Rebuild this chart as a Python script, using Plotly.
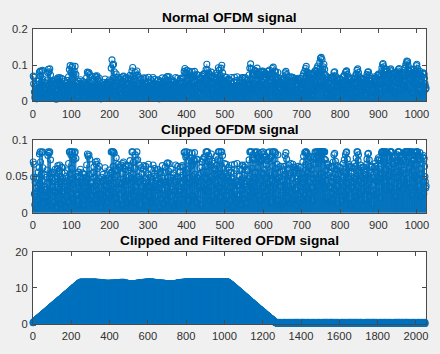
import plotly.graph_objects as go

# ---------------- data ----------------
# |x| of the normal OFDM signal, in thousandths
normal_mag = [
70,49,67,26,11,42,22,48,34,7,29,46,17,56,37,62,81,40,84,70,32,53,83,23,86,62,43,13,36,53,20,32,
22,31,49,16,59,40,79,89,29,82,48,90,25,73,54,10,48,35,56,37,24,14,44,55,28,60,47,29,6,35,50,61,
65,32,53,18,58,66,40,49,12,43,63,30,62,47,26,17,30,40,55,8,35,50,22,44,31,58,37,14,68,42,88,53,
99,46,80,26,94,61,98,19,77,40,73,83,32,97,54,75,24,42,50,11,25,41,56,16,48,35,44,60,23,40,30,46,
55,19,49,32,10,36,53,26,43,34,48,66,22,81,46,78,31,80,53,74,18,42,34,24,40,54,13,31,37,56,63,28,
49,17,70,38,67,24,71,44,61,14,32,48,64,23,41,26,7,35,49,44,30,16,53,43,32,47,20,62,36,38,29,44,
52,14,24,34,48,20,59,46,31,54,37,92,56,115,29,101,64,103,40,82,26,49,59,19,76,42,52,12,58,67,32,63,
25,42,62,17,66,34,40,54,11,68,46,70,30,43,60,22,64,38,65,49,14,26,44,59,65,31,50,18,72,40,62,48,
32,84,43,94,53,70,23,46,61,14,80,36,72,29,84,49,73,20,42,50,66,28,43,10,47,62,23,53,37,29,44,60,
65,26,40,17,48,64,34,42,8,37,54,22,67,52,36,23,34,49,60,13,41,30,46,19,66,50,35,16,61,31,40,48,
37,14,44,58,24,60,47,34,7,40,54,26,56,42,18,48,65,32,44,12,26,42,55,23,63,38,43,17,68,34,69,49,
58,28,68,44,22,40,49,60,14,32,23,36,52,10,55,41,30,46,18,66,38,43,13,50,64,25,47,36,29,11,56,63,
30,49,40,19,65,42,52,63,25,83,46,91,36,77,80,55,86,35,60,47,16,72,49,83,40,76,64,24,70,43,82,50,
67,22,73,40,83,53,71,30,44,14,74,48,73,26,43,35,52,18,62,48,37,54,10,63,70,34,74,56,38,77,48,76,
31,64,88,46,103,56,87,29,70,79,42,74,17,49,66,36,81,50,71,22,46,62,32,68,53,13,59,42,78,26,65,52,
73,37,93,54,86,34,61,72,20,92,50,100,40,79,29,50,60,17,68,47,40,55,24,67,36,50,11,48,62,30,59,44,
34,16,56,42,66,26,48,36,8,41,54,22,67,40,29,14,44,58,25,68,38,43,18,23,37,50,60,31,42,11,46,59,
66,32,65,48,19,52,63,40,66,25,36,13,43,58,31,60,47,22,73,42,92,50,104,35,90,61,40,74,29,76,49,73,
36,86,56,83,30,79,47,92,62,76,24,74,82,40,70,17,72,44,83,55,73,34,84,53,81,37,60,22,78,47,77,66,
29,72,49,83,40,74,24,87,55,76,35,52,14,78,44,91,64,95,34,73,53,84,42,82,25,61,46,67,16,80,48,62,
49,18,56,35,64,24,37,11,46,60,28,58,43,14,64,37,79,53,83,31,74,44,60,20,50,36,66,29,52,13,55,68,
26,48,37,17,67,40,63,56,22,59,34,62,42,10,31,47,61,25,64,44,54,14,58,36,63,30,48,19,54,40,70,35,
78,46,24,83,49,91,66,97,36,82,55,74,18,62,77,42,64,26,76,53,78,34,60,16,73,47,77,29,67,53,85,42,
83,48,75,92,37,98,68,78,88,46,108,73,119,54,122,84,116,43,90,96,49,103,74,89,34,73,58,44,18,68,40,66,
52,22,63,36,55,14,34,49,64,26,62,43,17,70,48,80,32,82,53,71,24,46,60,37,65,12,38,53,28,63,43,58,
62,30,52,16,40,47,23,68,50,36,73,56,24,80,54,83,85,41,74,31,49,67,20,62,46,64,11,50,36,63,55,42,
34,14,61,48,68,29,46,64,23,76,50,86,36,90,72,80,44,58,26,52,66,17,62,40,62,49,29,63,58,63,41,52,
47,18,53,37,67,74,31,81,50,82,40,73,22,59,46,55,63,28,64,11,49,38,31,48,62,24,68,46,64,56,43,59,
26,73,48,76,36,73,60,55,20,72,47,82,93,53,102,105,70,96,42,83,74,32,84,60,89,37,83,76,50,64,73,78,
52,87,34,90,62,84,43,77,68,29,54,67,40,76,79,22,77,70,56,72,80,49,84,89,64,91,36,78,70,56,66,76,
46,80,32,72,59,73,81,43,92,54,101,70,107,112,48,110,100,40,86,78,62,83,35,90,68,87,79,24,71,58,73,89,
48,74,79,50,83,66,99,103,46,91,80,36,73,78,31,83,53,73,22,61,53,68,77,43,79,26,75,64,50,43,34,37,
]

# |x| of the clipped OFDM signal, in thousandths
clipped_mag = [
70,49,67,26,11,42,22,48,34,7,29,46,17,56,37,62,81,40,84,70,32,53,83,23,84,62,43,13,36,53,20,32,
22,31,49,16,59,40,79,84,29,82,48,84,25,73,54,10,48,35,56,37,24,14,44,55,28,60,47,29,6,35,50,61,
65,32,53,18,58,66,40,49,12,43,63,30,62,47,26,17,30,40,55,8,35,50,22,44,31,58,37,14,68,42,84,53,
84,46,80,26,84,61,84,19,77,40,73,83,32,84,54,75,24,42,50,11,25,41,56,16,48,35,44,60,23,40,30,46,
55,19,49,32,10,36,53,26,43,34,48,66,22,81,46,78,31,80,53,74,18,42,34,24,40,54,13,31,37,56,63,28,
49,17,70,38,67,24,71,44,61,14,32,48,64,23,41,26,7,35,49,44,30,16,53,43,32,47,20,62,36,38,29,44,
52,14,24,34,48,20,59,46,31,54,37,84,56,84,29,84,64,84,40,82,26,49,59,19,76,42,52,12,58,67,32,63,
25,42,62,17,66,34,40,54,11,68,46,70,30,43,60,22,64,38,65,49,14,26,44,59,65,31,50,18,72,40,62,48,
32,84,43,84,53,70,23,46,61,14,80,36,72,29,84,49,73,20,42,50,66,28,43,10,47,62,23,53,37,29,44,60,
65,26,40,17,48,64,34,42,8,37,54,22,67,52,36,23,34,49,60,13,41,30,46,19,66,50,35,16,61,31,40,48,
37,14,44,58,24,60,47,34,7,40,54,26,56,42,18,48,65,32,44,12,26,42,55,23,63,38,43,17,68,34,69,49,
58,28,68,44,22,40,49,60,14,32,23,36,52,10,55,41,30,46,18,66,38,43,13,50,64,25,47,36,29,11,56,63,
30,49,40,19,65,42,52,63,25,83,46,84,36,77,80,55,84,35,60,47,16,72,49,83,40,76,64,24,70,43,82,50,
67,22,73,40,83,53,71,30,44,14,74,48,73,26,43,35,52,18,62,48,37,54,10,63,70,34,74,56,38,77,48,76,
31,64,84,46,84,56,84,29,70,79,42,74,17,49,66,36,81,50,71,22,46,62,32,68,53,13,59,42,78,26,65,52,
73,37,84,54,84,34,61,72,20,84,50,84,40,79,29,50,60,17,68,47,40,55,24,67,36,50,11,48,62,30,59,44,
34,16,56,42,66,26,48,36,8,41,54,22,67,40,29,14,44,58,25,68,38,43,18,23,37,50,60,31,42,11,46,59,
66,32,65,48,19,52,63,40,66,25,36,13,43,58,31,60,47,22,73,42,84,50,84,35,84,61,40,74,29,76,49,73,
36,84,56,83,30,79,47,84,62,76,24,74,82,40,70,17,72,44,83,55,73,34,84,53,81,37,60,22,78,47,77,66,
29,72,49,83,40,74,24,84,55,76,35,52,14,78,44,84,64,84,34,73,53,84,42,82,25,61,46,67,16,80,48,62,
49,18,56,35,64,24,37,11,46,60,28,58,43,14,64,37,79,53,83,31,74,44,60,20,50,36,66,29,52,13,55,68,
26,48,37,17,67,40,63,56,22,59,34,62,42,10,31,47,61,25,64,44,54,14,58,36,63,30,48,19,54,40,70,35,
78,46,24,83,49,84,66,84,36,82,55,74,18,62,77,42,64,26,76,53,78,34,60,16,73,47,77,29,67,53,84,42,
83,48,75,84,37,84,68,78,84,46,84,73,84,54,84,84,84,43,84,84,49,84,74,84,34,73,58,44,18,68,40,66,
52,22,63,36,55,14,34,49,64,26,62,43,17,70,48,80,32,82,53,71,24,46,60,37,65,12,38,53,28,63,43,58,
62,30,52,16,40,47,23,68,50,36,73,56,24,80,54,83,84,41,74,31,49,67,20,62,46,64,11,50,36,63,55,42,
34,14,61,48,68,29,46,64,23,76,50,84,36,84,72,80,44,58,26,52,66,17,62,40,62,49,29,63,58,63,41,52,
47,18,53,37,67,74,31,81,50,82,40,73,22,59,46,55,63,28,64,11,49,38,31,48,62,24,68,46,64,56,43,59,
26,73,48,76,36,73,60,55,20,72,47,82,84,53,84,84,70,84,42,83,74,32,84,60,84,37,83,76,50,64,73,78,
52,84,34,84,62,84,43,77,68,29,54,67,40,76,79,22,77,70,56,72,80,49,84,84,64,84,36,78,70,56,66,76,
46,80,32,72,59,73,81,43,84,54,84,70,84,84,48,84,84,40,84,78,62,83,35,84,68,84,79,24,71,58,73,84,
48,74,79,50,83,66,84,84,46,84,80,36,73,78,31,83,53,73,22,61,53,68,77,43,79,26,75,64,50,43,34,37,
]

# clipped and filtered signal, in tenths: rising edge, plateau, falling edge, tail
filt_rise = [
3,4,4,5,6,5,6,7,7,8,8,9,9,9,10,11,10,11,12,12,13,13,14,14,14,
15,15,16,16,16,17,18,17,18,19,19,20,20,21,21,21,22,23,22,23,24,24,25,25,26,
26,26,27,27,28,28,29,29,30,30,30,31,32,31,32,33,33,34,34,35,35,35,36,36,37,
37,38,38,39,39,40,40,40,41,42,41,42,43,43,44,44,45,45,46,46,46,47,48,47,48,
49,49,50,50,51,51,51,52,53,52,53,54,54,55,55,56,56,56,57,58,57,58,59,59,60,
60,60,61,61,62,62,63,63,64,64,64,65,66,65,66,67,67,68,68,69,69,69,70,70,71,
71,72,72,73,73,74,74,74,75,76,75,76,77,77,78,78,79,79,80,80,80,81,82,81,82,
83,83,84,84,85,85,85,86,87,86,87,88,88,89,89,90,90,90,91,92,91,92,93,93,94,
94,95,95,96,96,96,97,98,97,98,99,99,100,100,101,101,101,102,103,102,103,104,104,105,105,
106,106,107,107,107,108,109,108,109,110,110,111,111,112,112,112,113,113,114,114,
]
filt_plateau = [
114,115,114,115,116,115,114,115,114,115,115,114,115,116,115,114,115,114,115,114,115,116,115,114,115,
114,115,114,115,116,115,114,115,115,114,115,116,115,114,115,114,115,115,114,115,116,115,114,115,114,
115,114,115,116,115,114,115,114,115,115,114,115,116,115,114,115,114,115,115,114,115,114,115,116,115,
114,115,114,115,115,114,115,116,115,114,115,114,114,115,114,113,114,115,114,114,113,114,115,114,113,
114,113,114,115,114,113,114,113,114,113,112,113,114,113,113,112,113,114,113,112,113,112,113,113,112,
113,112,113,112,111,112,113,112,112,111,112,113,112,111,112,112,111,112,113,112,111,112,111,112,112,
111,112,113,112,111,112,112,111,112,113,112,111,112,113,112,112,111,112,113,112,113,112,111,112,113,
112,113,112,111,112,113,112,113,112,112,113,112,113,114,113,112,113,112,113,114,113,112,113,113,114,
113,114,113,112,113,114,113,114,113,114,115,114,113,114,113,114,115,114,113,114,114,115,114,113,114,
114,115,114,113,114,115,114,113,114,113,112,113,114,113,112,113,112,113,112,111,112,113,112,111,112,
112,111,112,111,110,111,112,111,110,111,111,110,111,112,111,110,111,110,109,110,111,110,109,110,110,
110,111,110,109,110,111,110,109,110,110,111,110,111,112,111,110,111,112,111,112,111,112,113,112,111,
112,113,112,111,112,113,112,113,114,113,112,113,112,113,114,113,112,113,114,113,113,114,113,112,113,
114,113,114,115,114,113,114,113,114,115,114,115,114,113,114,115,114,115,116,115,114,115,114,115,116,
115,114,115,116,115,114,115,116,115,114,115,116,115,116,115,114,115,116,115,114,115,116,115,115,114,
115,116,115,114,115,116,115,114,115,114,115,114,113,114,115,114,113,114,115,114,113,114,113,114,113,
114,113,114,113,112,113,114,113,112,113,114,113,112,113,112,113,114,113,112,113,112,111,112,113,112,
113,112,111,112,113,112,111,112,113,112,111,112,111,112,113,112,111,112,111,110,111,112,111,110,111,
111,112,111,110,111,112,111,110,111,110,109,110,111,110,109,110,111,110,109,110,111,110,109,110,110,
111,110,109,110,111,110,109,110,110,111,110,109,110,111,110,109,110,111,110,111,112,111,110,111,112,
111,112,111,112,113,112,111,112,113,112,113,112,113,114,113,112,113,114,113,112,113,114,113,114,113,
114,113,114,115,114,113,114,115,114,113,114,115,114,115,114,113,114,115,114,115,116,115,114,115,114,
115,116,115,114,115,116,115,116,115,114,115,116,115,116,115,116,117,116,115,116,115,116,117,116,115,
116,115,116,117,116,115,116,117,116,115,116,115,116,117,116,115,116,117,116,115,116,117,116,115,116,
116,117,116,115,116,117,116,115,116,116,117,116,115,116,117,116,115,116,117,116,116,115,116,117,116,
115,116,117,116,115,116,115,116,117,116,115,116,117,116,115,116,116,117,116,115,116,117,116,115,116,
116,117,116,115,116,117,116,115,116,117,116,116,115,116,117,116,115,116,117,116,115,116,116,117,116,
115,116,117,116,115,116,117,116,115,116,117,116,115,116,116,117,116,115,116,117,116,115,116,117,116,
116,117,116,115,116,117,116,116,115,116,117,116,115,116,117,116,115,116,117,116,116,117,116,115,116,
117,116,115,116,117,116,115,116,116,117,116,115,116,117,116,115,116,117,116,116,115,116,117,116,115,
116,117,116,115,116,117,116,116,115,116,117,116,115,116,117,116,116,115,116,117,116,116,115,
]
filt_fall = [
115,114,115,113,114,113,112,113,111,112,111,110,111,109,110,109,108,109,107,108,107,106,107,105,106,
104,105,103,104,102,103,101,102,100,101,100,99,100,98,99,97,98,96,97,96,95,96,94,95,93,
93,94,92,92,91,92,90,90,89,90,88,88,87,88,86,87,86,85,86,84,85,83,84,83,82,
82,81,82,80,80,79,80,78,78,77,78,76,77,75,76,75,74,74,73,74,72,72,71,72,71,
70,71,69,69,68,69,67,67,66,67,65,65,64,65,63,64,63,62,62,61,62,60,60,59,60,
59,58,59,57,57,56,57,55,55,54,55,53,54,52,53,52,51,51,50,51,49,49,48,49,48,
47,48,46,46,45,46,44,44,43,44,42,43,41,42,41,40,40,39,40,38,38,37,38,36,37,
36,36,35,36,34,34,33,34,32,32,31,32,30,31,29,30,29,28,28,27,28,26,26,25,26,
25,25,24,24,23,24,22,22,21,22,20,20,19,20,18,19,18,17,17,16,17,15,15,14,15,
14,14,13,13,12,13,11,11,10,11,9,9,8,9,7,8,7,6,6,5,6,5,4,4,4,
3,4,3,3,2,3,2,2,
]
filt_tail = [
2,3,1,2,4,2,1,3,2,2,3,1,2,2,4,3,1,2,3,2,1,2,3,3,2,
1,2,3,2,1,3,4,2,2,1,3,2,2,3,1,2,4,3,2,1,2,2,3,1,3,
3,2,1,2,2,4,3,1,2,3,2,2,1,3,3,2,1,2,4,2,3,1,2,2,3,
2,1,3,3,2,2,1,4,2,3,1,2,3,2,2,1,3,2,4,3,1,2,2,3,1,
2,4,2,1,3,2,2,3,1,2,3,4,2,1,2,3,2,2,1,3,2,3,1,2,4,
3,1,2,2,3,2,4,1,2,3,2,1,3,2,2,4,2,1,3,2,3,2,1,2,2,
1,3,2,4,2,2,3,1,2,2,3,2,1,4,3,2,2,1,3,2,2,3,2,1,3,
2,2,3,1,2,4,2,3,1,2,2,3,2,2,1,3,4,2,1,2,3,2,3,1,2,
3,2,1,2,3,2,2,4,3,1,2,2,3,1,2,3,2,2,4,1,2,3,2,2,1,
2,3,2,1,2,3,1,2,4,2,3,2,1,2,2,3,1,3,2,2,4,2,1,3,2,
1,2,4,3,2,1,2,3,2,2,1,3,4,2,2,3,1,2,2,3,2,1,3,2,4,
2,1,2,3,3,2,4,1,2,2,3,2,1,3,2,4,2,2,1,3,2,3,2,1,2,
3,2,2,1,4,2,3,2,1,2,3,1,2,2,4,2,3,1,2,3,2,2,1,3,2,
2,3,1,2,2,3,2,4,2,1,2,3,2,1,3,2,2,4,3,1,2,2,3,2,1,
1,2,3,2,4,1,2,2,3,2,1,3,2,3,2,2,1,2,4,3,2,1,2,3,2,
2,4,2,1,2,3,2,3,1,2,2,4,1,2,3,2,3,2,1,2,2,3,4,1,2,
3,1,2,3,2,2,1,4,2,3,2,1,2,2,3,1,2,4,2,2,3,2,1,2,3,
2,2,3,1,2,4,3,2,1,2,3,2,2,1,4,2,3,2,1,3,2,2,3,1,2,
1,3,2,2,3,1,2,2,4,2,1,3,2,3,2,1,2,3,2,4,2,1,2,3,2,
2,1,4,2,2,3,1,2,3,2,2,1,3,4,2,2,1,3,2,2,3,2,1,2,4,
3,2,1,2,3,2,4,2,1,3,2,2,1,2,3,3,2,1,4,2,2,3,1,2,2,
2,3,2,1,2,2,3,1,2,4,3,2,2,1,3,2,2,3,1,2,4,2,3,1,2,
1,2,3,3,2,1,2,4,2,2,1,3,2,2,3,1,4,2,2,3,2,1,2,3,2,
2,2,1,3,4,2,1,2,3,2,2,3,1,2,2,4,2,3,1,2,3,2,2,1,3,
3,1,2,2,3,2,2,1,4,3,2,1,2,3,2,2,3,1,2,4,2,2,1,3,2,
2,3,2,4,1,2,3,2,2,1,3,2,4,2,1,2,2,3,2,1,3,2,2,4,1,
1,2,3,2,2,3,1,2,3,4,2,2,1,3,2,2,3,2,1,2,4,3,2,1,2,
2,4,1,2,3,2,2,3,1,2,2,3,2,4,1,2,3,2,2,1,3,2,3,2,1,
3,2,2,1,2,4,3,2,2,1,3,2,1,2,3,2,4,2,1,3,2,2,3,1,2,
2,1,3,2,3,2,1,2,4,2,2,3,1,2,2,3,2,1,4,2,3,2,2,1,3,
1,3,2,2,1,3,2,4,2,3,1,2,2,3,2,1,2,3,2,2,4,1,
]

titles = ["Normal OFDM signal", "Clipped OFDM signal",
          "Clipped and Filtered OFDM signal"]
x_ticks_short = [0, 100, 200, 300, 400, 500, 600, 700, 800, 900, 1000]
x_ticks_long = [0, 200, 400, 600, 800, 1000, 1200, 1400, 1600, 1800, 2000]
y_ticks_1 = [0, 0.1, 0.2]
y_ticks_2 = [0, 0.05, 0.1]
y_ticks_3 = [0, 10, 20]

# ---------------- styling ----------------
BLUE = "#0072BD"
AX = "#4a4a4a"
TXT = "#303030"
FONT = "Liberation Sans, Arial, Helvetica, sans-serif"

filtered = filt_rise + filt_plateau + filt_fall + filt_tail
panels = [
    ([v / 1000 for v in normal_mag], "x", "y"),
    ([v / 1000 for v in clipped_mag], "x2", "y2"),
    ([v / 10 for v in filtered], "x3", "y3"),
]

fig = go.Figure()
for vals, xa, ya in panels:
    xs, ys = [], []
    idx = list(range(1, len(vals) + 1))
    for i, v in zip(idx, vals):
        xs += [i, i, None]
        ys += [0, v, None]
    fig.add_trace(go.Scatter(x=xs, y=ys, mode="lines",
                             line=dict(color=BLUE, width=0.9),
                             xaxis=xa, yaxis=ya, hoverinfo="skip",
                             showlegend=False))
    fig.add_trace(go.Scatter(x=idx, y=vals, mode="markers",
                             marker=dict(symbol="circle-open", size=6, color=BLUE,
                                         line=dict(width=1.1, color=BLUE)),
                             cliponaxis=False, xaxis=xa, yaxis=ya,
                             showlegend=False))

xdom = [30.3 / 440, 429.3 / 440]
ydoms = [[1 - 98.7 / 354, 1 - 24 / 354],
         [1 - 214 / 354, 1 - 139 / 354],
         [1 - 329 / 354, 1 - 254.3 / 354]]

common = dict(showline=True, linecolor=AX, linewidth=1, mirror="allticks",
              ticks="inside", ticklen=4, tickcolor=AX, tickwidth=1,
              showgrid=False, zeroline=False, ticklabelstandoff=2,
              tickfont=dict(family=FONT, size=11.2, color=TXT))

def fmt(v):
    return ("%g" % v)

fig.update_layout(
    width=440, height=354,
    margin=dict(l=0, r=0, t=0, b=0),
    paper_bgcolor="#f0f0f0", plot_bgcolor="white",
    xaxis=dict(domain=xdom, anchor="y", range=[0, 1025], tickvals=x_ticks_short, **common),
    yaxis=dict(domain=ydoms[0], anchor="x", range=[0, 0.2], tickvals=y_ticks_1,
               ticktext=[fmt(v) for v in y_ticks_1], **common),
    xaxis2=dict(domain=xdom, anchor="y2", range=[0, 1025], tickvals=x_ticks_short, **common),
    yaxis2=dict(domain=ydoms[1], anchor="x2", range=[0, 0.1], tickvals=y_ticks_2,
                ticktext=[fmt(v) for v in y_ticks_2], **common),
    xaxis3=dict(domain=xdom, anchor="y3", range=[0, 2055], tickvals=x_ticks_long, **common),
    yaxis3=dict(domain=ydoms[2], anchor="x3", range=[0, 20], tickvals=y_ticks_3,
                ticktext=[fmt(v) for v in y_ticks_3], **common),
)

title_y = [1 - 12 / 354, 1 - 127.5 / 354, 1 - 243 / 354]
for t, ty in zip(titles, title_y):
    fig.add_annotation(text="<b>%s</b>" % t, xref="paper", yref="paper",
                       x=(xdom[0] + xdom[1]) / 2, y=ty, xanchor="center",
                       yanchor="middle", showarrow=False,
                       font=dict(family=FONT, size=13.7, color="#000000"))

fig.write_html("out.html", config={"displayModeBar": False},
               post_script="document.body.style.margin='0';document.body.style.background='#f0f0f0';")
